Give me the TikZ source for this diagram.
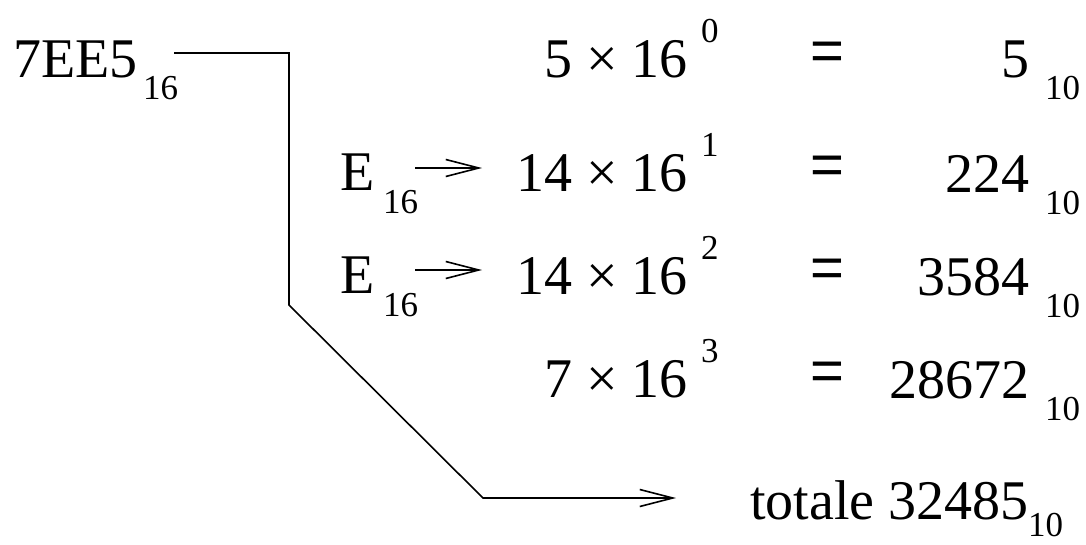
\documentclass[tikz,border=0pt]{standalone}
\usepackage{fontspec}
\setmainfont{LiberationSerif}[Extension=.ttf, UprightFont=*-Regular]
\newfontfamily\serf{LiberationSerif}[Extension=.ttf, UprightFont=*-Regular]
\newfontfamily\eqfont{Liberation Sans}
\usetikzlibrary{arrows.meta}
\begin{document}
\begin{tikzpicture}[x=1pt,y=-1pt,
  big/.style={inner sep=0pt, font=\serf\fontsize{56}{60}\selectfont},
  small/.style={inner sep=0pt, font=\serf\fontsize{35}{38}\selectfont},
  eqs/.style={inner sep=0pt, font=\eqfont\fontsize{58}{60}\selectfont},
  conn/.style={line width=1.6pt, line join=miter, -{Straight Barb[length=33pt,width=17pt,line width=1.6pt]}}]
\useasboundingbox (0,0) rectangle (1086,544);
% left number
\node[big, anchor=base west] (hex) at (13,77) {7EE5};
\node[small, anchor=base west] (hexsub) at (143,99) {16};
% E labels
\node[big, anchor=base west] (e1) at (340,190) {E};
\node[small, anchor=base west] (e1s) at (383,213) {16};
\node[big, anchor=base west] (e2) at (340,293) {E};
\node[small, anchor=base west] (e2s) at (383,316) {16};
% products
\node[big, anchor=base east] (p0) at (688,77) {5 × 16};
\node[small, anchor=base west] (x0) at (701,42) {0};
\node[big, anchor=base east] (p1) at (688,191) {14 × 16};
\node[small, anchor=base west] (x1) at (701,156) {1};
\node[big, anchor=base east] (p2) at (688,294) {14 × 16};
\node[small, anchor=base west] (x2) at (701,259) {2};
\node[big, anchor=base east] (p3) at (688,397) {7 × 16};
\node[small, anchor=base west] (x3) at (701,362) {3};
% equal signs
\node[eqs, anchor=base] (q0) at (827,70) {=};
\node[eqs, anchor=base] (q1) at (827,184) {=};
\node[eqs, anchor=base] (q2) at (827,287) {=};
\node[eqs, anchor=base] (q3) at (827,390) {=};
% results
\node[big, anchor=base east] (r0) at (1030,77) {5};
\node[small, anchor=base west] (r0s) at (1045,99) {10};
\node[big, anchor=base east] (r1) at (1030,192) {224};
\node[small, anchor=base west] (r1s) at (1045,214) {10};
\node[big, anchor=base east] (r2) at (1030,295) {3584};
\node[small, anchor=base west] (r2s) at (1045,317) {10};
\node[big, anchor=base east] (r3) at (1030,398) {28672};
\node[small, anchor=base west] (r3s) at (1045,420) {10};
% total
\node[big, anchor=base west] (tot) at (750,519) {totale 32485};
\node[small, anchor=base west] (tots) at (1028,536) {10};
% connectors
\coordinate (c0) at (174,53);
\coordinate (c1) at (289,53);
\coordinate (c2) at (289,305);
\coordinate (c3) at (483,498);
\coordinate (c4) at (676,498);
\draw[conn] (c0) -- (c1) -- (c2) -- (c3) -- (c4);
\coordinate (a1s) at (415,168);
\coordinate (a1e) at (482,168);
\coordinate (a2s) at (415,270);
\coordinate (a2e) at (482,270);
\draw[conn] (a1s) -- (a1e);
\draw[conn] (a2s) -- (a2e);
\end{tikzpicture}
\end{document}
